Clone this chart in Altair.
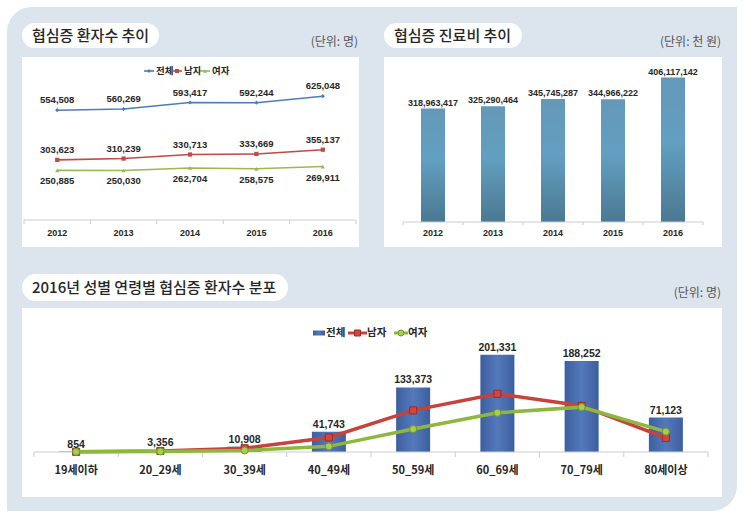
import altair as alt
import pandas as pd

# ---------------- data ----------------
years = ["2012", "2013", "2014", "2015", "2016"]
trend_total = [554508, 560269, 593417, 592244, 625048]
trend_male = [303623, 310239, 330713, 333669, 355137]
trend_female = [250885, 250030, 262704, 258575, 269911]

cost_thousand_won = [318963417, 325290464, 345745287, 344966222, 406117142]

age_groups = ["19세이하", "20_29세", "30_39세", "40_49세", "50_59세", "60_69세", "70_79세", "80세이상"]
age_total = [854, 3356, 10908, 41743, 133373, 201331, 188252, 71123]
age_male = [460, 2150, 7700, 30100, 86000, 120300, 95500, 29100]
age_female = [394, 1206, 3208, 11643, 47373, 81031, 92752, 42023]

series_names = ["전체", "남자", "여자"]

# ---------------- styles / layout ----------------
KR = "Noto Sans CJK KR"
NUM = "Liberation Sans"
TXT = "#262626"
BG = "#dce5ee"
AXIS_GRAY = "#cccccc"

W, H = 700, 440                 # whole drawing area (three panels)
TL = dict(x=0, y=0, w=337, h=190)
TR = dict(x=362, y=0, w=338, h=190)
BT = dict(x=0, y=251, w=700, h=189)

one = pd.DataFrame({"k": [0]})


def rect(x0, x1, y0, y1, **kw):
    return alt.Chart(one).mark_rect(**kw).encode(
        x=alt.value(x0), x2=alt.value(x1), y=alt.value(y0), y2=alt.value(y1))


def label(txt, x, y, **kw):
    return alt.Chart(one).mark_text(text=txt, **kw).encode(x=alt.value(x), y=alt.value(y))


def header(panel, title, unit, pill_w, pill_top=-34, pill_h=25, unit_y=-15):
    ox, oy = panel["x"], panel["y"]
    return [
        rect(ox, ox + pill_w, oy + pill_top, oy + pill_top + pill_h,
             fill="white", cornerRadius=pill_h / 2),
        label(title, ox + 10, oy + pill_top + pill_h / 2, align="left", baseline="middle",
              font=KR, fontSize=15, fontWeight=500, color=TXT),
        label(unit, ox + panel["w"] - 1, oy + unit_y, align="right", baseline="middle",
              font=KR, fontSize=12, color="#555555"),
    ]


def category_axis(field, cats, scale, axis_y, tick, label_dy, font, size):
    """Baseline, band-edge ticks and category labels along a band scale."""
    cat_df = pd.DataFrame({field: cats})
    rng = scale.range
    xe = lambda bp: alt.X(f"{field}:N", sort=cats, scale=scale, axis=None, bandPosition=bp)
    base = alt.Chart(cat_df)
    return [
        alt.Chart(one).mark_rule(color=AXIS_GRAY, strokeWidth=1).encode(
            x=alt.value(rng[0]), x2=alt.value(rng[1]), y=alt.value(axis_y)),
        base.mark_rule(color=AXIS_GRAY, strokeWidth=1).encode(
            x=xe(0), y=alt.value(axis_y), y2=alt.value(axis_y + tick)),
        base.transform_filter(alt.datum[field] == cats[-1]).mark_rule(
            color=AXIS_GRAY, strokeWidth=1).encode(
            x=xe(1), y=alt.value(axis_y), y2=alt.value(axis_y + tick)),
        base.mark_text(font=font, fontSize=size, fontWeight="bold", color=TXT,
                       baseline="middle").encode(
            x=xe(0.5), y=alt.value(axis_y + label_dy), text=f"{field}:N"),
    ]


# ---------------- background ----------------
backdrop = [
    rect(-15, 715, -50, 454, fill=BG, cornerRadiusTopLeft=25, cornerRadiusBottomRight=25),
    rect(TL["x"], TL["x"] + TL["w"], TL["y"], TL["y"] + TL["h"], fill="white"),
    rect(TR["x"], TR["x"] + TR["w"], TR["y"], TR["y"] + TR["h"], fill="white"),
    rect(BT["x"], BT["x"] + BT["w"], BT["y"], BT["y"] + BT["h"], fill="white"),
]

# ---------------- panel 1: patients by year ----------------
trend = pd.DataFrame({
    "year": years * 3,
    "series": [s for s in series_names for _ in years],
    "value": trend_total + trend_male + trend_female,
})
line_colors = ["#4a7ebb", "#be4b48", "#98b954"]
marker_shapes = ["diamond", "square", "triangle-up"]

x_tl_scale = alt.Scale(type="band", range=[2, 334], paddingInner=0, paddingOuter=0)
x_tl = alt.X("year:N", sort=years, scale=x_tl_scale, axis=None)
y_tl = alt.Y("value:Q", scale=alt.Scale(domain=[0, 700000], range=[163, 24.4]), axis=None)
c_tl = alt.Color("series:N", scale=alt.Scale(domain=series_names, range=line_colors), legend=None)

tl_base = alt.Chart(trend)
tl_lines = tl_base.mark_line(strokeWidth=1.6).encode(x=x_tl, y=y_tl, color=c_tl)
tl_pts = tl_base.mark_point(filled=True, size=18, opacity=1).encode(
    x=x_tl, y=y_tl, color=c_tl,
    shape=alt.Shape("series:N", scale=alt.Scale(domain=series_names, range=marker_shapes), legend=None))
tl_lab_up = tl_base.transform_filter(alt.datum.series != "여자").mark_text(
    font=NUM, fontSize=9.5, fontWeight="bold", color=TXT, dy=-10).encode(
    x=x_tl, y=y_tl, text=alt.Text("value:Q", format=","))
tl_lab_dn = tl_base.transform_filter(alt.datum.series == "여자").mark_text(
    font=NUM, fontSize=9.5, fontWeight="bold", color=TXT, dy=11).encode(
    x=x_tl, y=y_tl, text=alt.Text("value:Q", format=","))

# legend row: line + marker + name
tl_legend = []
for i, name in enumerate(series_names):
    x0 = TL["x"] + 122 + i * 28
    ly = TL["y"] + 14
    tl_legend.append(alt.Chart(one).mark_rule(color=line_colors[i], strokeWidth=1.6).encode(
        x=alt.value(x0), x2=alt.value(x0 + 10), y=alt.value(ly)))
    tl_legend.append(alt.Chart(one).mark_point(filled=True, size=16, opacity=1,
                                               color=line_colors[i], shape=marker_shapes[i]).encode(
        x=alt.value(x0 + 5), y=alt.value(ly)))
    tl_legend.append(label(name, x0 + 12, ly, align="left", baseline="middle", font=KR,
                           fontSize=9.5, fontWeight="bold", color=TXT))

tl = alt.layer(*category_axis("year", years, x_tl_scale, 163, 4, 13, NUM, 9),
               tl_lines, tl_pts, tl_lab_up, tl_lab_dn)

# ---------------- panel 2: medical cost by year ----------------
cost = pd.DataFrame({"year": years, "cost": cost_thousand_won})
x_tr_scale = alt.Scale(type="band", range=[TR["x"] + 19, TR["x"] + 319], paddingInner=0, paddingOuter=0)
x_tr = alt.X("year:N", sort=years, scale=x_tr_scale, axis=None)
y_tr = alt.Y("cost:Q", scale=alt.Scale(domain=[0, 450000000], range=[165, 5]), axis=None)

steel = alt.Gradient(gradient="linear", x1=0, x2=0, y1=0, y2=1, stops=[
    alt.GradientStop(color="#6598b8", offset=0),
    alt.GradientStop(color="#629fc0", offset=0.45),
    alt.GradientStop(color="#4b7892", offset=1),
])
tr_bars = alt.Chart(cost).mark_bar(size=24, color=steel).encode(x=x_tr, y=y_tr)
tr_labels = alt.Chart(cost).mark_text(font=NUM, fontSize=9, fontWeight="bold", color=TXT,
                                      baseline="bottom", dy=-1).encode(
    x=x_tr, y=y_tr, text=alt.Text("cost:Q", format=","))

tr = alt.layer(tr_bars, *category_axis("year", years, x_tr_scale, 165, 3, 11, NUM, 9),
               tr_labels)

# ---------------- panel 3: 2016 patients by sex and age ----------------
age = pd.DataFrame({"age": age_groups, "total": age_total,
                    "male": age_male, "female": age_female})
x_bt_scale = alt.Scale(type="band", range=[12, 686], paddingInner=0, paddingOuter=0)
x_bt = alt.X("age:N", sort=age_groups, scale=x_bt_scale, axis=None)
y_bt_scale = alt.Scale(domain=[0, 250000], range=[BT["y"] + 144, BT["y"] + 18.25])

royal = alt.Gradient(gradient="linear", x1=0, x2=1, y1=0, y2=0, stops=[
    alt.GradientStop(color="#3c5f9f", offset=0),
    alt.GradientStop(color="#5479ba", offset=0.5),
    alt.GradientStop(color="#3c5f9e", offset=1),
])
MALE_C, FEMALE_C = "#c8423c", "#8db83d"

bt_base = alt.Chart(age)
bt_bars = bt_base.mark_bar(size=34, color=royal).encode(
    x=x_bt, y=alt.Y("total:Q", scale=y_bt_scale, axis=None))
bt_labels = bt_base.mark_text(font=NUM, fontSize=10.5, fontWeight="bold", color=TXT,
                              baseline="bottom", dy=-2).encode(
    x=x_bt, y=alt.Y("total:Q", axis=None), text=alt.Text("total:Q", format=","))
male_line = bt_base.mark_line(color=MALE_C, strokeWidth=3.5, strokeCap="round").encode(
    x=x_bt, y=alt.Y("male:Q", axis=None))
female_line = bt_base.mark_line(color=FEMALE_C, strokeWidth=3.5, strokeCap="round").encode(
    x=x_bt, y=alt.Y("female:Q", axis=None))
male_pts = bt_base.mark_point(shape="square", filled=True, size=50, opacity=1,
                              fill="#d2463f", stroke="#9e2a25", strokeWidth=1).encode(
    x=x_bt, y=alt.Y("male:Q", axis=None))
female_pts = bt_base.mark_point(shape="circle", filled=True, size=50, opacity=1,
                                fill="#a9cd52", stroke="#6f9a25", strokeWidth=1).encode(
    x=x_bt, y=alt.Y("female:Q", axis=None))

bt = alt.layer(bt_bars,
               *category_axis("age", age_groups, x_bt_scale, BT["y"] + 144, 5, 19, KR, 11),
               male_line, male_pts, female_line, female_pts, bt_labels)

LY = BT["y"] + 25
bt_legend = [
    rect(291, 303, LY - 2.5, LY + 2.5, color=royal),
    label("전체", 304, LY, align="left", baseline="middle", font=KR, fontSize=10.5,
          fontWeight="bold", color=TXT),
    alt.Chart(one).mark_rule(color=MALE_C, strokeWidth=3).encode(
        x=alt.value(326), x2=alt.value(345), y=alt.value(LY)),
    alt.Chart(one).mark_point(shape="square", filled=True, size=36, opacity=1,
                              fill="#d2463f", stroke="#9e2a25", strokeWidth=1).encode(
        x=alt.value(335.5), y=alt.value(LY)),
    label("남자", 345, LY, align="left", baseline="middle", font=KR, fontSize=10.5,
          fontWeight="bold", color=TXT),
    alt.Chart(one).mark_rule(color=FEMALE_C, strokeWidth=3).encode(
        x=alt.value(372), x2=alt.value(386), y=alt.value(LY)),
    alt.Chart(one).mark_point(shape="circle", filled=True, size=36, opacity=1,
                              fill="#a9cd52", stroke="#6f9a25", strokeWidth=1).encode(
        x=alt.value(379), y=alt.value(LY)),
    label("여자", 386, LY, align="left", baseline="middle", font=KR, fontSize=10.5,
          fontWeight="bold", color=TXT),
]

# ---------------- assemble ----------------
chart = alt.layer(
    *backdrop,
    *header(TL, "협심증 환자수 추이", "(단위: 명)", 137),
    *header(TR, "협심증 진료비 추이", "(단위: 천 원)", 138),
    *header(BT, "2016년 성별 연령별 협심증 환자수 분포", "(단위: 명)", 266, pill_h=27),
    tl, *tl_legend,
    tr,
    bt, *bt_legend,
).resolve_scale(
    x="independent", y="independent", color="independent", shape="independent"
).properties(
    width=W, height=H,
    padding={"left": 7, "top": 7, "right": 6, "bottom": 5},
    background="white",
).configure_view(stroke=None, fill=None)

chart.save("out.html", embed_options={"renderer": "svg", "actions": False})
